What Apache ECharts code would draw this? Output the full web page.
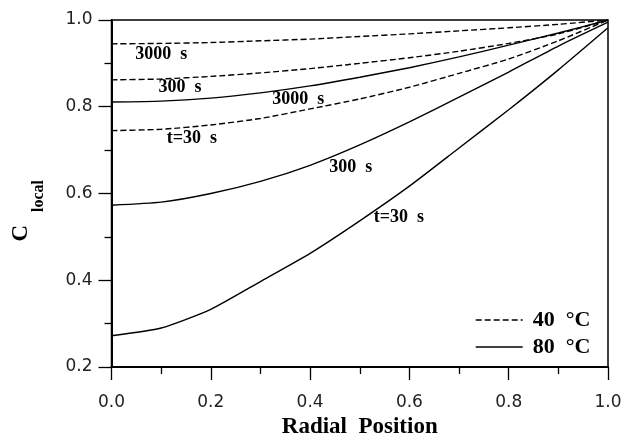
<!DOCTYPE html>
<html>
<head>
<meta charset="utf-8">
<script src="https://cdn.jsdelivr.net/npm/echarts@6/dist/echarts.min.js"></script>
<style>
  html, body { margin: 0; padding: 0; background: #fff; }
  #chart { width: 629px; height: 435px; }
</style>
</head>
<body>
<div id="chart"></div>
<script>
// Radial positions (dimensionless, centre = 0, surface = 1)
const radialPosition = [0.0, 0.1, 0.2, 0.3, 0.4, 0.5, 0.6, 0.7, 0.8, 0.9, 1.0];

// Local concentration profiles at 40 °C
const c40_t30   = [0.745, 0.748, 0.758, 0.773, 0.795, 0.818, 0.845, 0.877, 0.910, 0.952, 1.000];
const c40_t300  = [0.862, 0.864, 0.870, 0.878, 0.888, 0.900, 0.913, 0.928, 0.946, 0.968, 1.000];
const c40_t3000 = [0.945, 0.946, 0.948, 0.952, 0.956, 0.962, 0.968, 0.975, 0.982, 0.990, 1.000];

// Local concentration profiles at 80 °C
const c80_t30   = [0.272, 0.290, 0.333, 0.397, 0.462, 0.537, 0.617, 0.705, 0.793, 0.885, 0.982];
const c80_t300  = [0.573, 0.580, 0.600, 0.628, 0.665, 0.712, 0.765, 0.822, 0.880, 0.940, 0.995];
const c80_t3000 = [0.811, 0.813, 0.820, 0.832, 0.848, 0.868, 0.890, 0.915, 0.942, 0.970, 1.000];

const xTicks = [0.0, 0.2, 0.4, 0.6, 0.8, 1.0];
const yTicks = [0.2, 0.4, 0.6, 0.8, 1.0];

// Time annotations placed along the curves (data coordinates)
const curveLabels = [
  { text: '3000  s', x: 0.100, y: 0.920 },
  { text: '300  s',  x: 0.138, y: 0.844 },
  { text: '3000  s', x: 0.376, y: 0.818 },
  { text: 't=30  s', x: 0.162, y: 0.728 },
  { text: '300  s',  x: 0.482, y: 0.661 },
  { text: 't=30  s', x: 0.579, y: 0.544 }
];

const legendNames = ['40  °C', '80  °C'];

const serif = '"Liberation Serif", "Times New Roman", serif';

function pairs(ys) {
  return radialPosition.map((x, i) => [x, ys[i]]);
}

function profile(name, ys, dashed) {
  return {
    type: 'line',
    name: name,
    data: pairs(ys),
    symbol: 'none',
    smooth: 0.2,
    silent: true,
    itemStyle: { color: '#000' },
    lineStyle: {
      color: '#000',
      width: 1.4,
      type: dashed ? [6, 3] : 'solid'
    }
  };
}

const chart = echarts.init(document.getElementById('chart'), null, { renderer: 'canvas' });

const axisTitleGraphics = [
  {
    type: 'text', left: 10, top: 225, rotation: Math.PI / 2,
    style: { text: 'C', font: 'bold 23px ' + serif, fill: '#000' }
  },
  {
    type: 'text', left: 31, top: 180, rotation: Math.PI / 2,
    style: { text: 'local', font: 'bold 16px ' + serif, fill: '#000' }
  }
];

chart.setOption({
  animation: false,
  backgroundColor: '#fff',
  grid: {
    left: 111.5, right: 21, top: 20, bottom: 68,
    outerBoundsMode: 'none',
    containLabel: false,
    show: true, borderColor: '#000', borderWidth: 1.5
  },
  legend: {
    data: legendNames,
    orient: 'vertical',
    left: 475, top: 309,
    padding: 0,
    itemWidth: 47, itemHeight: 22, itemGap: 5,
    selectedMode: false,
    itemStyle: { opacity: 0 },
    lineStyle: { color: '#000', width: 1.4 },
    textStyle: {
      fontFamily: serif, fontWeight: 'bold', fontSize: 22, color: '#000',
      padding: [0, 0, 0, 5]
    }
  },
  xAxis: {
    type: 'value', min: xTicks[0], max: xTicks[xTicks.length - 1], interval: 0.2,
    axisLine: { lineStyle: { color: '#000', width: 2 } },
    axisTick: { inside: false, length: 13, lineStyle: { color: '#000', width: 1.3 } },
    minorTick: { show: true, splitNumber: 2, length: 7, lineStyle: { color: '#000', width: 1.3 } },
    splitLine: { show: false },
    axisLabel: {
      margin: 27, color: '#222', fontFamily: '"DejaVu Sans", sans-serif', fontSize: 17,
      formatter: v => v.toFixed(1)
    },
    name: 'Radial  Position', nameLocation: 'middle', nameGap: 47,
    nameTextStyle: { fontFamily: serif, fontWeight: 'bold', fontSize: 23, color: '#000' }
  },
  yAxis: {
    type: 'value', min: yTicks[0], max: yTicks[yTicks.length - 1], interval: 0.2,
    axisLine: { lineStyle: { color: '#000', width: 2 } },
    axisTick: { inside: false, length: 13, lineStyle: { color: '#000', width: 1.3 } },
    minorTick: { show: true, splitNumber: 2, length: 7, lineStyle: { color: '#000', width: 1.3 } },
    splitLine: { show: false },
    axisLabel: {
      margin: 19, color: '#222', fontFamily: '"DejaVu Sans", sans-serif', fontSize: 17,
      formatter: v => v.toFixed(1)
    }
  },
  graphic: axisTitleGraphics,
  series: [
    profile(legendNames[0], c40_t30, true),
    profile(legendNames[0], c40_t300, true),
    profile(legendNames[0], c40_t3000, true),
    profile(legendNames[1], c80_t30, false),
    profile(legendNames[1], c80_t300, false),
    profile(legendNames[1], c80_t3000, false)
  ]
});

// Time annotations, positioned through the grid's own coordinate system
const labelGraphics = curveLabels.map(l => {
  const p = chart.convertToPixel({ gridIndex: 0 }, [l.x, l.y]);
  return {
    type: 'text', x: p[0], y: p[1], silent: true,
    style: {
      text: l.text, font: 'bold 18px ' + serif, fill: '#000',
      align: 'center', verticalAlign: 'middle'
    }
  };
});
chart.setOption({ graphic: axisTitleGraphics.concat(labelGraphics) });
</script>
</body>
</html>
